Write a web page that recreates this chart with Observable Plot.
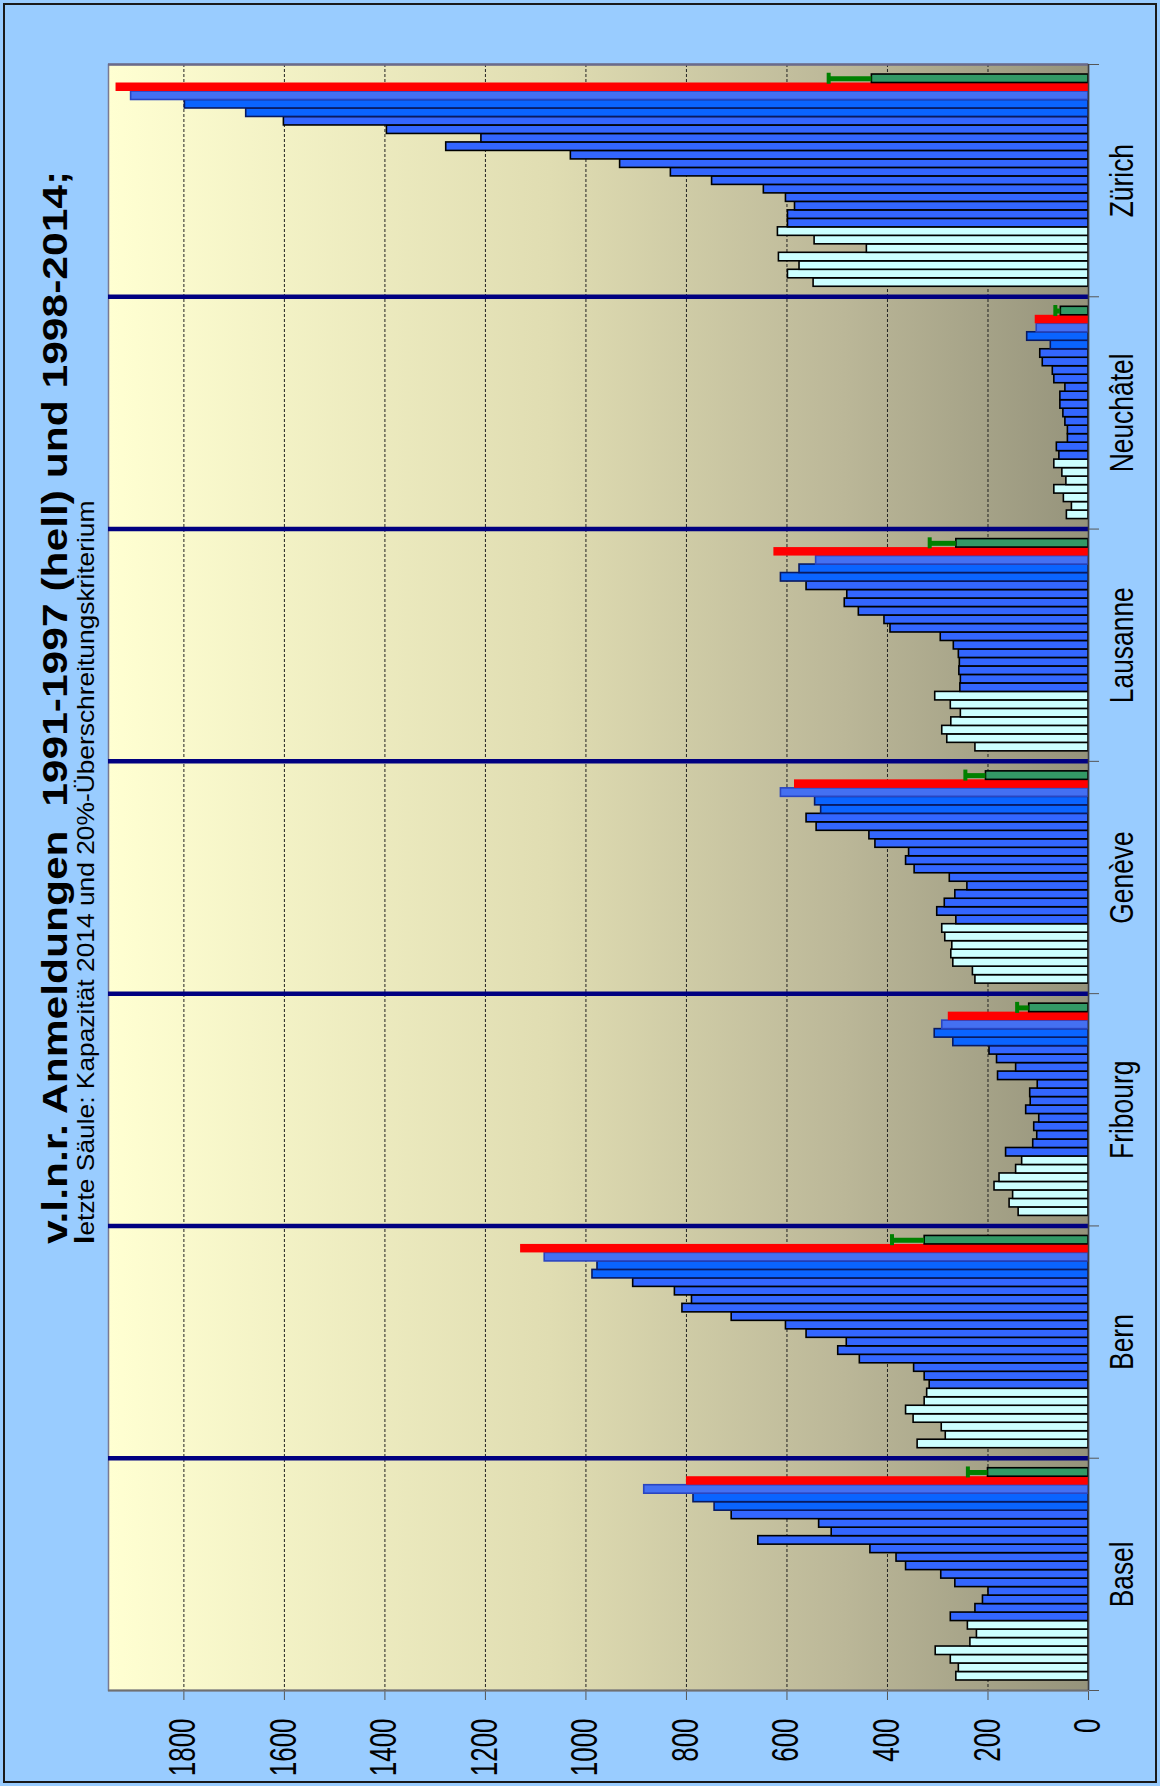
<!DOCTYPE html>
<html><head><meta charset="utf-8">
<script src="https://cdn.jsdelivr.net/npm/d3@7"></script>
<script src="https://cdn.jsdelivr.net/npm/@observablehq/plot@0.6"></script>
<style>
html,body{margin:0;padding:0;background:#99ccff;}
#wrap{position:relative;width:1160px;height:1786px;background:#99ccff;overflow:hidden;font-family:"Liberation Sans",Arial,sans-serif;}
#chart{position:absolute;left:0;top:0;}
#border{position:absolute;left:3px;top:3px;width:1150px;height:1776px;border:2px solid #1a1a1a;pointer-events:none;}
.ttl{position:absolute;white-space:nowrap;transform-origin:0 0;color:#000;line-height:1;}
#t1{font-weight:bold;font-size:35px;left:37px;top:1244px;}
#t2{font-size:24px;left:71px;top:1244px;}
</style></head><body>
<div id="wrap">
<div id="chart"></div>
<div class="ttl" id="t1">v.l.n.r. Anmeldungen&nbsp; 1991-1997 (hell) und 1998-2014;</div>
<div class="ttl" id="t2"><b style="font-size:1.15em">l</b>etzte Säule: Kapazität 2014 und 20%-Überschreitungskriterium</div>
<div id="border"></div>
</div>
<script>
// ---- data ----
const cities = ["Basel", "Bern", "Fribourg", "Genève", "Lausanne", "Neuchâtel", "Zürich"];
const years = [1991,1992,1993,1994,1995,1996,1997,1998,1999,2000,2001,2002,2003,2004,2005,2006,2007,2008,2009,2010,2011,2012,2013,2014];
// Anmeldungen 1991..2014 per city
const basel     = [263,258,274,304,235,222,240, 274,225,210,199,265,293,363,382,434,657,511,536,710,744,786,884, 800];
const bern      = [340,284,292,348,363,326,321, 316,326,347,455,498,481,561,602,710,808,789,823,906,987,977,1082, 1130];
const fribourg  = [139,157,150,187,177,144,132, 164,110,102,108,98,124,115,116,101,180,144,182,197,269,306,291, 279];
const geneve    = [225,230,269,273,271,285,291, 263,301,286,265,241,276,346,363,357,424,436,541,561,532,544,612, 585];
const lausanne  = [225,281,291,273,254,274,305, 255,254,257,256,258,268,294,394,406,457,485,480,561,612,575,542, 626];
const neuchatel = [43,33,49,68,44,52,68, 58,63,41,41,46,50,56,56,46,68,71,91,96,75,122,103, 106];
const zurich    = [547,598,575,616,441,545,618, 598,598,584,602,646,749,831,932,1030,1278,1208,1396,1601,1676,1798,1905, 1935];
// last column: capacity 2014 and 20% exceedance criterion
const capacity2014 = [200, 326, 118, 204, 263, 55, 431];
const criterion20  = [240, 391, 142, 245, 316, 66, 517];
const xTicks = [0,200,400,600,800,1000,1200,1400,1600,1800];

// ---- table built from the arrays ----
const seriesByCity = [basel, bern, fribourg, geneve, lausanne, neuchatel, zurich];
const PAD = 10 / 232, SLOT = (1 - 2 * PAD) / 25;
const kindOf = y => y <= 1997 ? "hell" : y === 2014 ? "rot" : y === 2013 ? "b3" : y >= 2011 ? "b2" : "b1";
const fills = {hell: "#ccffff", b1: "#3366ff", b2: "#0a64ff", b3: "#4470f2", rot: "#ff0000"};
const strokes = {hell: "#000", b1: "#000", b2: "#0a1a60", b3: "#2a45c0", rot: "none"};
const rows = [];
cities.forEach((city, ci) => {
  seriesByCity[ci].forEach((v, s) => {
    const yr = years[s];
    rows.push({city, year: yr, value: v, kind: kindOf(yr),
      y1: ci + PAD + s * SLOT, y2: ci + PAD + (s + 1) * SLOT});
  });
});
const caps = cities.map((city, ci) => ({city, value: capacity2014[ci], crit: criterion20[ci],
  y1: ci + PAD + 24 * SLOT, y2: ci + PAD + 25 * SLOT, yc: ci + PAD + 24.5 * SLOT}));

const font = "Liberation Sans, Arial, sans-serif";
const svg = Plot.plot({
  width: 1160, height: 1786,
  marginLeft: 108, marginRight: 72, marginTop: 64, marginBottom: 96,
  style: {background: "transparent", color: "#555", fontFamily: font},
  x: {domain: [0, 1950], reverse: true, ticks: xTicks, tickSize: 10, tickFormat: () => "", label: null},
  y: {domain: [0, 7], axis: "right", ticks: [0,1,2,3,4,5,6,7], tickSize: 10, tickFormat: () => "", label: null},
  color: {type: "identity"},
  marks: [
    Plot.frame({fill: "url(#bggrad)", stroke: "#7a7a92", strokeWidth: 1.5}),
    Plot.ruleX(xTicks.filter(d => d > 0), {stroke: "#222", strokeWidth: 1, strokeDasharray: "3,2"}),
    Plot.rect(rows.filter(d => d.kind !== "rot"), {x1: d => 0, x2: "value", y1: "y1", y2: "y2",
      fill: d => fills[d.kind], stroke: d => strokes[d.kind], strokeWidth: 1.6}),
    Plot.rect(rows.filter(d => d.kind === "rot"), {x1: d => 0, x2: "value", y1: "y1", y2: "y2", fill: "#ff0000"}),
    Plot.rect(caps, {x1: d => 0, x2: "value", y1: "y1", y2: "y2", fill: "#339966", stroke: "#000", strokeWidth: 1.6}),
    Plot.ruleY(caps, {y: "yc", x1: "value", x2: "crit", stroke: "#008000", strokeWidth: 5}),
    Plot.ruleX(caps, {x: "crit", y1: d => d.yc - SLOT * 0.65, y2: d => d.yc + SLOT * 0.65, stroke: "#008000", strokeWidth: 4}),
    Plot.ruleY([1,2,3,4,5,6], {stroke: "#000080", strokeWidth: 4.5}),
    Plot.ruleY([7], {stroke: "#6b6b8a", strokeWidth: 2.5}),
    Plot.ruleY([0], {stroke: "#707070", strokeWidth: 2}),
    Plot.ruleX([0], {stroke: "#404040", strokeWidth: 1.5}),
    Plot.text(xTicks, {x: d => d, text: d => String(d), frameAnchor: "bottom", dy: 28, rotate: -90,
      textAnchor: "end", lineAnchor: "middle", fontSize: 36, fill: "#000"}),
    Plot.text(cities, {y: (d, i) => i + 0.5, text: d => d, frameAnchor: "right", dx: 34, rotate: -90,
      textAnchor: "middle", lineAnchor: "middle", fontSize: 33, fill: "#000"})
  ]
});
// gradient for the plot area
const defs = d3.select(svg).insert("defs", ":first-child");
const grad = defs.append("linearGradient").attr("id", "bggrad").attr("x1", 0).attr("x2", 1).attr("y1", 0).attr("y2", 0);
[[0, "#ffffd2"], [0.45, "#e0ddb2"], [0.75, "#bbb798"], [1, "#95937b"]].forEach(([o, c]) =>
  grad.append("stop").attr("offset", o).attr("stop-color", c));
document.getElementById("chart").appendChild(svg);

// condense rotated labels along their reading direction
const tickSet = new Set(xTicks.map(String));
d3.select(svg).selectAll("text").each(function () {
  const t = this.textContent;
  let f = null;
  if (tickSet.has(t)) f = 0.72;
  else if (cities.includes(t)) f = 0.8;
  if (f) {
    const w = this.getComputedTextLength();
    this.setAttribute("textLength", (w * f).toFixed(1));
    this.setAttribute("lengthAdjust", "spacingAndGlyphs");
  }
});

// rotated title lines, fitted to their lengths
function fit(id, len) {
  const el = document.getElementById(id);
  const s = len / el.offsetWidth;
  el.style.transform = `rotate(-90deg) scaleX(${s})`;
}
fit("t1", 1073);
fit("t2", 743);
</script>
</body></html>
